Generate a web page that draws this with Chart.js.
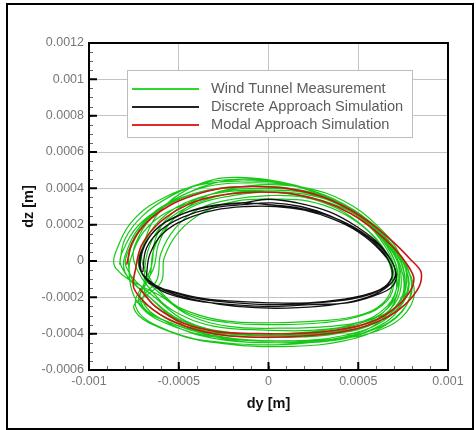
<!doctype html>
<html lang="en">
<head>
<meta charset="utf-8">
<title>dy / dz orbit</title>
<script src="https://cdn.jsdelivr.net/npm/chart.js@4.4.0/dist/chart.umd.min.js"></script>
<style>
  body { margin: 0; background: #fff; }
  #wrap { position: relative; width: 476px; height: 430px; }
  #wrap canvas { position: absolute; left: 0; top: 0; }
  #frame { position: absolute; left: 6px; top: 3px; width: 468px; height: 427px;
           border: 2px solid #000; box-sizing: border-box; pointer-events: none; }
</style>
</head>
<body>
<div id="wrap">
  <canvas id="chart" width="476" height="430"></canvas>
  <div id="frame"></div>
</div>
<script>
// orbit traces, one lap per row, [dy, dz] in metres
var windTunnel = [
  [[-8.3e-4,-0.2e-4],[-8.0e-4,1.2e-4],[-7.0e-4,2.5e-4],[-5.4e-4,3.6e-4],[-3.6e-4,4.3e-4],[-1.8e-4,4.5e-4],[0.4e-4,4.4e-4],[2.6e-4,3.8e-4],[4.8e-4,2.7e-4],[6.6e-4,1.2e-4],[7.7e-4,-0.6e-4],[7.6e-4,-2.0e-4],[6.4e-4,-3.3e-4],[4.2e-4,-4.1e-4],[1.2e-4,-4.4e-4],[-2.0e-4,-4.3e-4],[-5.0e-4,-3.7e-4],[-7.2e-4,-2.4e-4]],
  [[-7.8e-4,-0.1e-4],[-7.4e-4,1.3e-4],[-6.4e-4,2.6e-4],[-4.8e-4,3.5e-4],[-2.8e-4,4.0e-4],[-0.6e-4,4.1e-4],[1.6e-4,3.9e-4],[3.6e-4,3.3e-4],[5.6e-4,2.1e-4],[7.2e-4,0.4e-4],[8.0e-4,-1.4e-4],[7.4e-4,-2.8e-4],[5.8e-4,-3.8e-4],[3.4e-4,-4.4e-4],[0.4e-4,-4.5e-4],[-2.8e-4,-4.3e-4],[-5.4e-4,-3.5e-4],[-7.0e-4,-2.2e-4]],
  [[-6.2e-4,-1.0e-4],[-6.0e-4,0.4e-4],[-5.2e-4,1.8e-4],[-3.8e-4,2.9e-4],[-2.0e-4,3.4e-4],[0.0e-4,3.6e-4],[2.0e-4,3.5e-4],[3.8e-4,2.9e-4],[5.4e-4,1.8e-4],[6.6e-4,0.4e-4],[7.0e-4,-1.0e-4],[6.6e-4,-2.2e-4],[5.2e-4,-3.0e-4],[3.0e-4,-3.4e-4],[0.4e-4,-3.5e-4],[-2.2e-4,-3.4e-4],[-4.4e-4,-2.9e-4],[-5.8e-4,-2.0e-4]],
  [[-7.2e-4,-0.4e-4],[-6.9e-4,1.0e-4],[-6.0e-4,2.3e-4],[-4.4e-4,3.3e-4],[-2.4e-4,3.8e-4],[-0.4e-4,3.9e-4],[1.8e-4,3.8e-4],[3.8e-4,3.2e-4],[5.6e-4,2.0e-4],[6.9e-4,0.5e-4],[7.4e-4,-1.0e-4],[7.0e-4,-2.4e-4],[5.6e-4,-3.4e-4],[3.2e-4,-3.9e-4],[0.4e-4,-4.0e-4],[-2.6e-4,-3.9e-4],[-5.0e-4,-3.2e-4],[-6.6e-4,-2.0e-4]],
  [[-8.0e-4,-0.6e-4],[-7.8e-4,0.8e-4],[-6.9e-4,2.2e-4],[-5.4e-4,3.3e-4],[-3.4e-4,4.1e-4],[-1.2e-4,4.3e-4],[1.0e-4,4.2e-4],[3.2e-4,3.6e-4],[5.2e-4,2.5e-4],[6.8e-4,1.0e-4],[7.6e-4,-0.8e-4],[7.3e-4,-2.2e-4],[6.0e-4,-3.3e-4],[3.8e-4,-4.0e-4],[1.0e-4,-4.2e-4],[-2.2e-4,-4.1e-4],[-5.2e-4,-3.5e-4],[-7.2e-4,-2.3e-4]],
  [[-6.6e-4,-0.8e-4],[-6.4e-4,0.6e-4],[-5.6e-4,2.0e-4],[-4.0e-4,3.1e-4],[-2.0e-4,3.6e-4],[0.2e-4,3.8e-4],[2.4e-4,3.6e-4],[4.4e-4,2.9e-4],[6.0e-4,1.6e-4],[7.0e-4,0.1e-4],[7.2e-4,-1.2e-4],[6.6e-4,-2.5e-4],[5.0e-4,-3.4e-4],[2.6e-4,-3.8e-4],[-0.2e-4,-3.8e-4],[-3.0e-4,-3.6e-4],[-5.0e-4,-2.9e-4],[-6.2e-4,-2.0e-4]],
  [[-7.5e-4,0.0e-4],[-7.2e-4,1.4e-4],[-6.2e-4,2.7e-4],[-4.6e-4,3.7e-4],[-3.0e-4,4.3e-4],[-1.4e-4,4.5e-4],[0.6e-4,4.3e-4],[2.8e-4,3.7e-4],[5.0e-4,2.5e-4],[6.8e-4,0.9e-4],[7.8e-4,-0.9e-4],[7.5e-4,-2.3e-4],[6.2e-4,-3.3e-4],[4.0e-4,-3.9e-4],[1.2e-4,-4.1e-4],[-2.0e-4,-4.0e-4],[-4.8e-4,-3.3e-4],[-6.7e-4,-2.1e-4]],
  [[-6.9e-4,-0.6e-4],[-6.6e-4,0.9e-4],[-5.8e-4,2.1e-4],[-4.2e-4,3.1e-4],[-2.2e-4,3.7e-4],[-0.2e-4,3.9e-4],[1.8e-4,3.8e-4],[3.8e-4,3.2e-4],[5.6e-4,2.1e-4],[7.0e-4,0.6e-4],[7.6e-4,-1.0e-4],[7.3e-4,-2.6e-4],[5.9e-4,-3.7e-4],[3.6e-4,-4.3e-4],[0.6e-4,-4.5e-4],[-2.4e-4,-4.3e-4],[-4.8e-4,-3.5e-4],[-6.4e-4,-2.2e-4]],
  [[-8.2e-4,-0.3e-4],[-7.9e-4,1.0e-4],[-7.0e-4,2.2e-4],[-5.4e-4,3.2e-4],[-3.4e-4,3.9e-4],[-1.2e-4,4.1e-4],[1.0e-4,4.0e-4],[3.2e-4,3.4e-4],[5.2e-4,2.3e-4],[6.6e-4,0.8e-4],[7.2e-4,-0.8e-4],[7.0e-4,-2.3e-4],[5.8e-4,-3.6e-4],[3.6e-4,-4.3e-4],[0.8e-4,-4.6e-4],[-2.4e-4,-4.5e-4],[-5.4e-4,-3.9e-4],[-7.4e-4,-2.5e-4]],
  [[-6.4e-4,-0.4e-4],[-6.1e-4,1.0e-4],[-5.3e-4,2.3e-4],[-3.8e-4,3.4e-4],[-2.0e-4,4.0e-4],[0.0e-4,4.2e-4],[2.2e-4,4.0e-4],[4.2e-4,3.3e-4],[6.0e-4,2.0e-4],[7.3e-4,0.4e-4],[7.7e-4,-1.1e-4],[7.2e-4,-2.4e-4],[5.7e-4,-3.2e-4],[3.4e-4,-3.6e-4],[0.6e-4,-3.7e-4],[-2.2e-4,-3.6e-4],[-4.4e-4,-3.0e-4],[-5.9e-4,-2.0e-4]],
  [[-8.5e-4,-0.4e-4],[-8.3e-4,1.0e-4],[-7.4e-4,2.4e-4],[-5.8e-4,3.5e-4],[-3.8e-4,4.2e-4],[-1.6e-4,4.4e-4],[0.6e-4,4.3e-4],[2.8e-4,3.7e-4],[5.0e-4,2.6e-4],[6.8e-4,1.0e-4],[7.9e-4,-0.8e-4],[7.7e-4,-2.4e-4],[6.4e-4,-3.6e-4],[4.2e-4,-4.4e-4],[1.2e-4,-4.7e-4],[-2.0e-4,-4.6e-4],[-5.2e-4,-4.0e-4],[-7.5e-4,-2.6e-4]],
  [[-6.0e-4,-1.2e-4],[-5.8e-4,0.2e-4],[-5.0e-4,1.6e-4],[-3.6e-4,2.7e-4],[-1.8e-4,3.3e-4],[0.2e-4,3.4e-4],[2.2e-4,3.3e-4],[4.0e-4,2.7e-4],[5.6e-4,1.6e-4],[6.6e-4,0.2e-4],[6.9e-4,-1.2e-4],[6.4e-4,-2.3e-4],[5.0e-4,-3.0e-4],[2.8e-4,-3.3e-4],[0.2e-4,-3.4e-4],[-2.4e-4,-3.3e-4],[-4.4e-4,-2.8e-4],[-5.6e-4,-2.1e-4]],
  [[-7.0e-4,-0.2e-4],[-6.8e-4,1.4e-4],[-6.0e-4,2.8e-4],[-4.6e-4,3.9e-4],[-3.0e-4,4.5e-4],[-1.6e-4,4.6e-4],[0.4e-4,4.4e-4],[2.6e-4,3.8e-4],[4.8e-4,2.6e-4],[6.6e-4,1.0e-4],[7.5e-4,-0.8e-4],[7.3e-4,-2.3e-4],[6.0e-4,-3.4e-4],[3.8e-4,-4.0e-4],[1.0e-4,-4.2e-4],[-2.2e-4,-4.1e-4],[-4.8e-4,-3.4e-4],[-6.5e-4,-2.1e-4]],
  [[-7.7e-4,-0.8e-4],[-7.5e-4,0.6e-4],[-6.7e-4,1.9e-4],[-5.2e-4,2.9e-4],[-3.2e-4,3.5e-4],[-1.0e-4,3.8e-4],[1.2e-4,3.7e-4],[3.4e-4,3.2e-4],[5.4e-4,2.2e-4],[7.0e-4,0.6e-4],[8.1e-4,-1.4e-4],[7.7e-4,-2.8e-4],[6.2e-4,-3.8e-4],[3.8e-4,-4.3e-4],[0.8e-4,-4.4e-4],[-2.4e-4,-4.2e-4],[-5.2e-4,-3.5e-4],[-7.1e-4,-2.3e-4]],
  [[-6.5e-4,-0.2e-4],[-6.3e-4,1.2e-4],[-5.5e-4,2.5e-4],[-4.0e-4,3.4e-4],[-2.2e-4,3.9e-4],[-0.2e-4,4.0e-4],[1.8e-4,3.9e-4],[3.8e-4,3.3e-4],[5.6e-4,2.2e-4],[6.9e-4,0.7e-4],[7.3e-4,-0.9e-4],[6.9e-4,-2.3e-4],[5.5e-4,-3.3e-4],[3.2e-4,-3.8e-4],[0.4e-4,-4.0e-4],[-2.4e-4,-3.9e-4],[-4.6e-4,-3.3e-4],[-6.1e-4,-2.2e-4]],
  [[-7.9e-4,-0.4e-4],[-7.6e-4,1.0e-4],[-6.7e-4,2.3e-4],[-5.2e-4,3.3e-4],[-3.2e-4,3.9e-4],[-1.0e-4,4.1e-4],[1.2e-4,4.0e-4],[3.4e-4,3.4e-4],[5.2e-4,2.3e-4],[6.5e-4,0.8e-4],[7.1e-4,-0.8e-4],[6.9e-4,-2.2e-4],[5.7e-4,-3.3e-4],[3.6e-4,-3.9e-4],[0.8e-4,-4.1e-4],[-2.4e-4,-4.0e-4],[-5.2e-4,-3.4e-4],[-7.1e-4,-2.2e-4]]
];

var discrete = [
  [[-7.0e-4,-0.6e-4],[-6.8e-4,0.7e-4],[-6.0e-4,1.7e-4],[-4.8e-4,2.4e-4],[-3.2e-4,2.9e-4],[-1.4e-4,3.1e-4],[0.2e-4,3.2e-4],[1.8e-4,3.0e-4],[3.4e-4,2.5e-4],[4.8e-4,1.8e-4],[6.0e-4,0.9e-4],[6.8e-4,-0.2e-4],[6.8e-4,-1.1e-4],[6.0e-4,-1.7e-4],[4.6e-4,-2.1e-4],[2.6e-4,-2.3e-4],[0.4e-4,-2.4e-4],[-1.8e-4,-2.3e-4],[-3.8e-4,-2.1e-4],[-5.4e-4,-1.7e-4],[-6.5e-4,-1.2e-4]],
  [[-7.2e-4,-0.3e-4],[-6.9e-4,0.9e-4],[-6.1e-4,1.9e-4],[-4.8e-4,2.6e-4],[-3.2e-4,3.0e-4],[-1.4e-4,3.2e-4],[0.0e-4,3.4e-4],[1.6e-4,3.2e-4],[3.4e-4,2.7e-4],[4.9e-4,1.9e-4],[6.2e-4,0.9e-4],[7.0e-4,-0.3e-4],[7.0e-4,-1.0e-4],[6.2e-4,-1.7e-4],[4.8e-4,-2.2e-4],[2.8e-4,-2.5e-4],[0.4e-4,-2.6e-4],[-1.8e-4,-2.5e-4],[-3.8e-4,-2.2e-4],[-5.6e-4,-1.7e-4],[-6.8e-4,-1.0e-4]],
  [[-6.8e-4,-0.8e-4],[-6.6e-4,0.4e-4],[-5.9e-4,1.5e-4],[-4.6e-4,2.3e-4],[-3.0e-4,2.8e-4],[-1.2e-4,3.0e-4],[0.4e-4,3.0e-4],[2.0e-4,2.8e-4],[3.6e-4,2.3e-4],[5.0e-4,1.6e-4],[6.2e-4,0.6e-4],[6.9e-4,-0.5e-4],[6.6e-4,-1.3e-4],[5.6e-4,-1.8e-4],[4.2e-4,-2.1e-4],[2.2e-4,-2.3e-4],[0.0e-4,-2.3e-4],[-2.2e-4,-2.2e-4],[-4.0e-4,-2.0e-4],[-5.6e-4,-1.6e-4],[-6.5e-4,-1.3e-4]],
  [[-7.1e-4,-0.5e-4],[-7.0e-4,0.6e-4],[-6.3e-4,1.7e-4],[-5.0e-4,2.5e-4],[-3.4e-4,3.0e-4],[-1.6e-4,3.2e-4],[0.0e-4,3.1e-4],[1.8e-4,2.9e-4],[3.6e-4,2.4e-4],[5.2e-4,1.6e-4],[6.4e-4,0.6e-4],[7.1e-4,-0.6e-4],[6.9e-4,-1.4e-4],[5.9e-4,-1.9e-4],[4.4e-4,-2.3e-4],[2.4e-4,-2.4e-4],[0.2e-4,-2.5e-4],[-2.0e-4,-2.4e-4],[-4.0e-4,-2.2e-4],[-5.6e-4,-1.8e-4],[-6.7e-4,-1.2e-4]]
];

var modal = [
  [[-7.9e-4,-0.2e-4],[-7.6e-4,1.0e-4],[-6.8e-4,2.1e-4],[-5.6e-4,3.0e-4],[-4.2e-4,3.6e-4],[-2.6e-4,4.0e-4],[-0.8e-4,4.1e-4],[1.0e-4,4.0e-4],[2.8e-4,3.6e-4],[4.4e-4,2.9e-4],[5.8e-4,2.0e-4],[7.0e-4,1.0e-4],[7.9e-4,0.1e-4],[8.5e-4,-0.6e-4],[8.4e-4,-1.4e-4],[7.6e-4,-2.4e-4],[6.4e-4,-3.2e-4],[4.6e-4,-3.8e-4],[2.4e-4,-4.1e-4],[0.0e-4,-4.2e-4],[-2.4e-4,-4.1e-4],[-4.6e-4,-3.6e-4],[-6.4e-4,-2.7e-4],[-7.5e-4,-1.5e-4]],
  [[-7.4e-4,-0.4e-4],[-7.1e-4,0.8e-4],[-6.3e-4,1.9e-4],[-5.1e-4,2.8e-4],[-3.7e-4,3.4e-4],[-2.1e-4,3.7e-4],[-0.4e-4,3.8e-4],[1.3e-4,3.7e-4],[3.0e-4,3.3e-4],[4.6e-4,2.6e-4],[5.9e-4,1.7e-4],[7.0e-4,0.7e-4],[7.8e-4,-0.3e-4],[8.1e-4,-1.0e-4],[7.8e-4,-1.8e-4],[6.9e-4,-2.7e-4],[5.6e-4,-3.4e-4],[3.8e-4,-3.8e-4],[1.6e-4,-4.0e-4],[-0.6e-4,-4.0e-4],[-2.8e-4,-3.9e-4],[-4.8e-4,-3.4e-4],[-6.3e-4,-2.5e-4],[-7.2e-4,-1.5e-4]]
];

var seriesNames = ['Wind Tunnel Measurement', 'Discrete Approach Simulation', 'Modal Approach Simulation'];
var yTicks = [0.0012, 0.001, 0.0008, 0.0006, 0.0004, 0.0002, 0, -0.0002, -0.0004, -0.0006];
var xTicks = [-0.001, -0.0005, 0, 0.0005, 0.001];

// laps joined one after another into a single trace
function trace(laps) {
  var pts = [];
  laps.forEach(function (lap) {
    lap.forEach(function (p) { pts.push({ x: p[0], y: p[1] }); });
  });
  return pts;
}

function tickLabel(v) {
  return String(Number(v.toFixed(4)));
}

var legendColors = ['#2fd62f', '#222222', '#e02a2a'];

var boxLegend = {
  id: 'boxLegend',
  afterDraw: function (chart) {
    var ctx = chart.ctx;
    ctx.save();
    ctx.fillStyle = '#fff';
    ctx.fillRect(127, 70, 285, 67);
    ctx.strokeStyle = '#bdbdbd';
    ctx.lineWidth = 1;
    ctx.strokeRect(127.5, 70.5, 285, 67);
    ctx.font = '14.6px "Liberation Sans", Arial, sans-serif';
    ctx.textBaseline = 'middle';
    seriesNames.forEach(function (name, i) {
      var yy = 89 + i * 18;
      ctx.strokeStyle = legendColors[i];
      ctx.lineWidth = 2;
      ctx.beginPath();
      ctx.moveTo(132, yy);
      ctx.lineTo(199, yy);
      ctx.stroke();
      ctx.fillStyle = '#5c5c5c';
      ctx.fillText(name, 211, yy);
    });
    ctx.restore();
  }
};

var plotFrame = {
  id: 'plotFrame',
  afterDraw: function (chart) {
    var ctx = chart.ctx, a = chart.chartArea;
    var sx = chart.scales.x, sy = chart.scales.y;
    ctx.save();
    // minor ticks
    ctx.strokeStyle = '#666';
    ctx.lineWidth = 1;
    ctx.beginPath();
    for (var i = -10; i <= 10; i++) {
      var px = Math.round(sx.getPixelForValue(i * 0.0001)) + 0.5;
      ctx.moveTo(px, a.bottom);
      ctx.lineTo(px, a.bottom - 4);
    }
    for (var j = -12; j <= 24; j++) {
      var py = Math.round(sy.getPixelForValue(j * 0.00005)) + 0.5;
      ctx.moveTo(a.left, py);
      ctx.lineTo(a.left + 4, py);
    }
    ctx.stroke();
    // major ticks
    ctx.strokeStyle = '#000';
    ctx.lineWidth = 2;
    ctx.beginPath();
    sx.ticks.forEach(function (t) {
      var px = sx.getPixelForValue(t.value);
      ctx.moveTo(px, a.bottom);
      ctx.lineTo(px, a.bottom - 8);
    });
    sy.ticks.forEach(function (t) {
      var py = sy.getPixelForValue(t.value);
      ctx.moveTo(a.left, py);
      ctx.lineTo(a.left + 8, py);
    });
    ctx.stroke();
    ctx.strokeRect(a.left, a.top, a.right - a.left, a.bottom - a.top);
    ctx.restore();
  }
};

new Chart(document.getElementById('chart').getContext('2d'), {
  type: 'scatter',
  data: {
    datasets: [{
      label: seriesNames[1],
      data: trace(discrete),
      showLine: true,
      borderColor: '#111',
      borderWidth: 1.3,
      pointRadius: 0,
      tension: 0.4,
      order: 1
    }, {
      label: seriesNames[2],
      data: trace(modal),
      showLine: true,
      borderColor: '#cc1414',
      borderWidth: 1.6,
      pointRadius: 0,
      tension: 0.3,
      order: 2
    }, {
      label: seriesNames[0],
      data: trace(windTunnel),
      showLine: true,
      borderColor: '#18c818',
      borderWidth: 1.2,
      pointRadius: 0,
      tension: 0.4,
      order: 3
    }]
  },
  options: {
    responsive: false,
    animation: false,
    events: [],
    layout: { padding: { left: 0, top: 43, right: 28, bottom: 0 } },
    plugins: { legend: { display: false }, tooltip: { enabled: false } },
    scales: {
      x: {
        type: 'linear',
        min: -0.001,
        max: 0.001,
        afterBuildTicks: function (s) { s.ticks = xTicks.map(function (v) { return { value: v }; }); },
        afterFit: function (s) { s.height = 60; },
        ticks: {
          callback: tickLabel,
          color: '#777',
          font: { family: '"Liberation Sans", Arial, sans-serif', size: 12.5 },
          padding: 4,
          maxRotation: 0,
          autoSkip: false
        },
        grid: { color: '#c4c4c4', lineWidth: 1, drawTicks: false },
        border: { display: false },
        title: {
          display: true,
          text: 'dy [m]',
          color: '#111',
          font: { family: '"Liberation Sans", Arial, sans-serif', size: 14.5, weight: 'bold' },
          padding: { top: 0, bottom: 17 }
        }
      },
      y: {
        type: 'linear',
        min: -0.0006,
        max: 0.0012,
        afterBuildTicks: function (s) { s.ticks = yTicks.map(function (v) { return { value: v }; }); },
        afterFit: function (s) { s.width = 89; },
        ticks: {
          callback: tickLabel,
          color: '#777',
          font: { family: '"Liberation Sans", Arial, sans-serif', size: 12.5 },
          padding: 5,
          autoSkip: false
        },
        grid: { color: '#c4c4c4', lineWidth: 1, drawTicks: false },
        border: { display: false },
        title: {
          display: true,
          text: 'dz [m]',
          color: '#111',
          font: { family: '"Liberation Sans", Arial, sans-serif', size: 14.5, weight: 'bold' },
          padding: { top: 20, bottom: 0 }
        }
      }
    }
  },
  plugins: [plotFrame, boxLegend]
});
</script>
</body>
</html>
